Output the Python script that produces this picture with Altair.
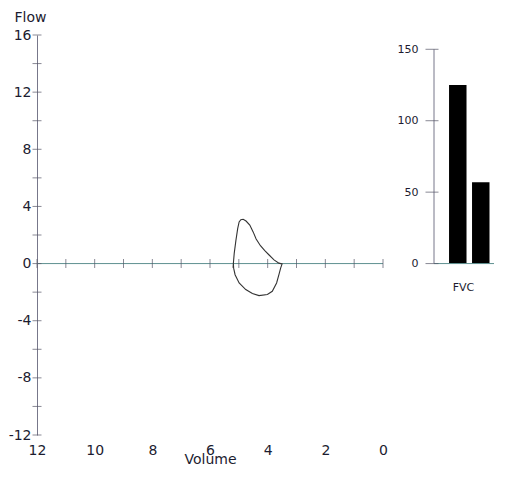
import altair as alt
import pandas as pd

# ---- data ----
loop_volume = [5.20, 5.19, 5.16, 5.10, 5.04, 4.99, 4.93, 4.85, 4.75, 4.62, 4.50, 4.40,
               4.25, 4.10, 3.95, 3.78, 3.61, 3.50, 3.55, 3.61, 3.69, 3.84, 4.01, 4.30,
               4.53, 4.76, 4.99, 5.13, 5.18, 5.19]
loop_flow = [-0.30, 0.00, 0.71, 1.64, 2.45, 2.91, 3.07, 3.10, 2.98, 2.70, 2.20, 1.72,
             1.25, 0.90, 0.60, 0.26, 0.03, -0.02, -0.32, -0.78, -1.36, -1.94, -2.17, -2.24,
             -2.10, -1.82, -1.36, -0.78, -0.32, 0.02]

volume_labels = [12, 10, 8, 6, 4, 2, 0]
volume_ticks = [0, 1, 2, 3, 4, 5, 6, 7, 8, 9, 10, 11, 12]
flow_labels = [-12, -8, -4, 0, 4, 8, 12, 16]
flow_ticks = [-12, -10, -8, -6, -4, -2, 0, 2, 4, 6, 8, 10, 12, 14, 16]

bar_categories = ["Pred", "Meas"]
bar_values = [125, 57]
pct_labels = [0, 50, 100, 150]

FONT = "DejaVu Sans"
TEXT = "#1c1c30"
AXIS_C = "#77778a"
ZERO_C = "#5e9090"

loop_df = pd.DataFrame({"volume": loop_volume, "flow": loop_flow,
                        "order": list(range(len(loop_volume)))})
xt_df = pd.DataFrame({"volume": volume_ticks, "flow": [0] * len(volume_ticks)})
yt_df = pd.DataFrame({"flow": flow_ticks, "volume": [max(volume_ticks)] * len(flow_ticks)})

xs = alt.Scale(domain=[0, 12], reverse=True, nice=False, zero=False)
ys = alt.Scale(domain=[-12, 16], nice=False, zero=False)

x_axis = alt.Axis(values=volume_labels, domain=False, ticks=False, grid=False, labelFlush=False,
                  labelExpr="datum.value", labelOverlap=False,
                  labelFontSize=14, labelFont=FONT, labelColor=TEXT, labelPadding=8,
                  title="Volume", titleFont=FONT, titleFontSize=14, titleFontWeight="normal",
                  titleColor=TEXT, titleY=28, titleBaseline="alphabetic")
y_axis = alt.Axis(values=flow_labels, domain=True, domainColor=AXIS_C, ticks=False, grid=False,
                  labelFlush=False, labelExpr="datum.value", labelOverlap=False,
                  labelFontSize=14, labelFont=FONT, labelColor=TEXT, labelPadding=6,
                  title="Flow", titleAngle=0, titleX=-23, titleY=-14, titleAlign="left",
                  titleBaseline="alphabetic", titleFont=FONT, titleFontSize=14,
                  titleFontWeight="normal", titleColor=TEXT)

X = alt.X("volume:Q", scale=xs, axis=x_axis, title="Volume")
Y = alt.Y("flow:Q", scale=ys, axis=y_axis, title="Flow")

zero_line = alt.Chart(pd.DataFrame({"flow": [0]})).mark_rule(color=ZERO_C, strokeWidth=1).encode(y=Y)
x_ticks = alt.Chart(xt_df).mark_tick(orient="vertical", size=9, thickness=1, color="#555566").encode(x=X, y=Y)
y_ticks = alt.Chart(yt_df).mark_tick(orient="horizontal", size=9, thickness=1, color="#555566").encode(x=X, y=Y)
loop = alt.Chart(loop_df).mark_line(color="#333333", strokeWidth=1.1).encode(x=X, y=Y, order="order:Q")

left = alt.layer(zero_line, x_ticks, y_ticks, loop).properties(width=346, height=400)

# ---- right panel ----
bar_df = pd.DataFrame({"cat": bar_categories, "val": bar_values})
ps = alt.Scale(domain=[-120, 160], nice=False, zero=False)
bx = alt.Scale(domain=bar_categories, paddingInner=0.24, paddingOuter=0.425, align=0.77)

BX = alt.X("cat:N", scale=bx, sort=bar_categories, title="FVC",
           axis=alt.Axis(labels=False, ticks=False, domain=False, title="FVC",
                         titleFont=FONT, titleFontSize=11, titleFontWeight="normal",
                         titleColor=TEXT, titleX=29, titleY=-145, titleBaseline="alphabetic"))
BY = alt.Y("val:Q", scale=ps, title=None,
           axis=alt.Axis(values=pct_labels, domain=False, ticks=False, grid=False,
                         labelFont=FONT, labelFontSize=11, labelColor=TEXT,
                         labelPadding=16, title=None))

bars = alt.Chart(bar_df).mark_bar(color="#000000").encode(x=BX, y=BY)
base_line = alt.Chart(pd.DataFrame({"val": [0]})).mark_rule(color=ZERO_C).encode(y=BY)
axis_line = alt.Chart(pd.DataFrame({"val": [min(pct_labels)], "hi": [max(pct_labels)]})).mark_rule(
    color=AXIS_C).encode(x=alt.value(0), y=BY, y2="hi:Q")
p_ticks = alt.Chart(pd.DataFrame({"val": pct_labels})).mark_tick(
    orient="horizontal", size=13, thickness=1, color="#555566").encode(x=alt.value(-2), y=BY)

right = alt.layer(bars, base_line, axis_line, p_ticks).properties(width=60, height=400)

chart = alt.hconcat(left, right, spacing=9).properties(
    padding={"left": 0, "top": 2, "right": 0, "bottom": 0},
    background="white"
).configure_view(stroke=None)

chart.save("out.html", embed_options={"renderer": "svg", "actions": False})
